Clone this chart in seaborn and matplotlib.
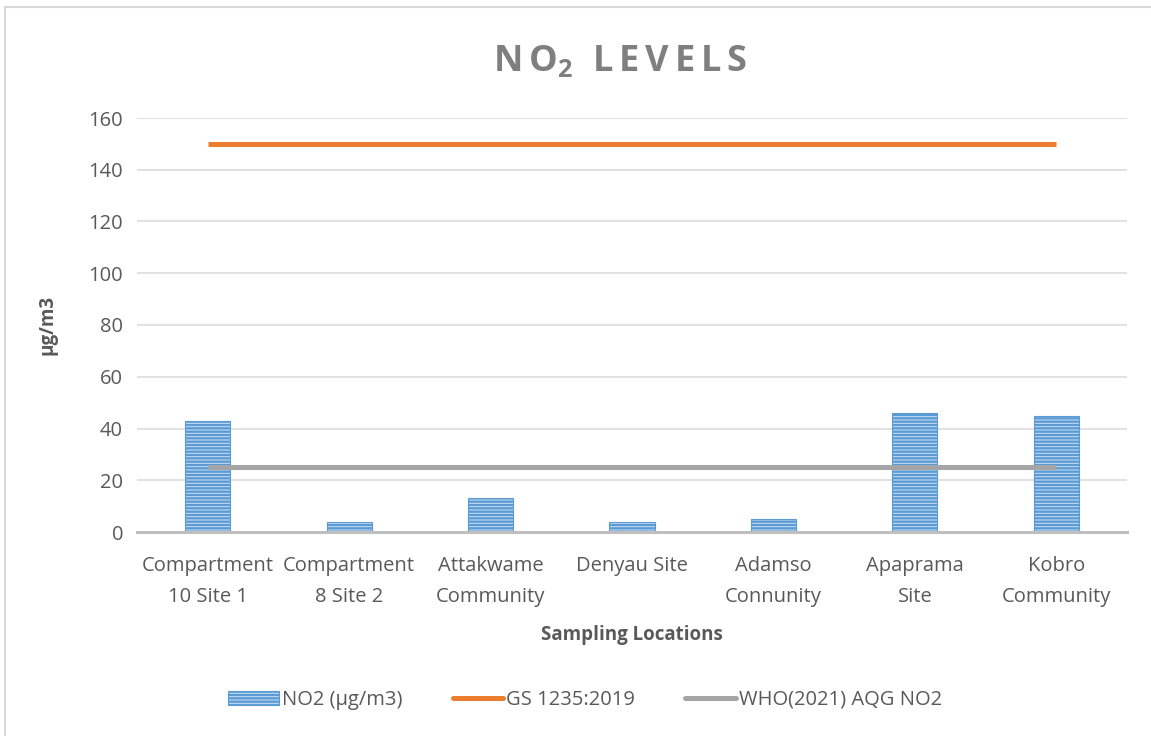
import matplotlib
matplotlib.use("Agg")
import matplotlib.pyplot as plt
import matplotlib.patches as mpatches
from matplotlib.lines import Line2D
import seaborn as sns
import pandas as pd

categories = ["Compartment\n10 Site 1", "Compartment\n8 Site 2", "Attakwame\nCommunity",
              "Denyau Site", "Adamso\nConnunity", "Apaprama\nSite", "Kobro\nCommunity"]
no2_values = [43, 4, 13, 4, 5, 46, 45]
gs_limit = [150, 150, 150, 150, 150, 150, 150]
who_limit = [25, 25, 25, 25, 25, 25, 25]

sns.set_theme(style="white")
plt.rcParams['font.family'] = ['Open Sans', 'DejaVu Sans']
plt.rcParams['mathtext.default'] = 'regular'
plt.rcParams['hatch.linewidth'] = 1.7
plt.rcParams['hatch.color'] = '#5B9BD5'

W, H = 1151, 736
fig = plt.figure(figsize=(W / 100, H / 100), dpi=100)
ax = fig.add_axes([137 / W, 1 - 532 / H, (1127 - 137) / W, (532 - 118) / H])

df = pd.DataFrame({"loc": categories, "val": no2_values})
sns.barplot(data=df, x="loc", y="val", ax=ax, color="#CFE0F3", width=0.32,
            hatch="-----", edgecolor="#5B9BD5", linewidth=0.8, saturation=1)

ax.plot(range(len(categories)), gs_limit, color="#ED7D31", lw=3.6, solid_capstyle="butt", zorder=4)
ax.plot(range(len(categories)), who_limit, color="#A5A5A5", lw=3.6, solid_capstyle="butt", zorder=4)

ax.set_ylim(0, 160)
ax.set_xlim(-0.5, len(categories) - 0.5)
ax.set_yticks(range(0, 161, 20))
ax.yaxis.grid(True, color="#D9D9D9", lw=1.1)
ax.set_axisbelow(True)
for s in ["top", "right", "left"]:
    ax.spines[s].set_visible(False)
ax.spines["bottom"].set_color("#BFBFBF")
ax.spines["bottom"].set_linewidth(2.2)
ax.spines["bottom"].set_zorder(5)
ax.tick_params(axis="both", length=0, labelsize=14.5, colors="#595959", pad=10)
ax.tick_params(axis="x", pad=17)
for lbl in ax.get_xticklabels():
    lbl.set_linespacing(1.75)

ax.set_xlabel("Sampling Locations", fontsize=13.5, fontweight="bold", color="#595959", labelpad=13)
ax.set_ylabel("µg/m3", fontsize=13.5, fontweight="bold", color="#595959", labelpad=22)

fig.text(620 / W, 1 - 62 / H, r"$N\,O_{2}\;\;L\,E\,V\,E\,L\,S$", ha="center", va="center",
         fontsize=26, fontweight="bold", color="#7F7F7F")

handles = [
    mpatches.Patch(facecolor="#CFE0F3", edgecolor="#5B9BD5", hatch="-----", linewidth=0.8),
    Line2D([0], [0], color="#ED7D31", lw=3.6),
    Line2D([0], [0], color="#A5A5A5", lw=3.6),
]
labels = ["NO2 (µg/m3)", "GS 1235:2019", "WHO(2021) AQG NO2"]
fig.legend(handles, labels, loc="center", bbox_to_anchor=(585 / W, 1 - 700 / H), ncol=3,
           frameon=False, fontsize=14.5, labelcolor="#595959", handlelength=2.5,
           handletextpad=0.15, columnspacing=2.5, handleheight=0.7)

fig.patches.append(mpatches.Rectangle((5 / W, -0.1), 2, 1 - 7 / H + 0.1, transform=fig.transFigure,
                                      fill=False, edgecolor="#D9D9D9", lw=1.5, figure=fig))

fig.savefig("out.png", dpi=100)
